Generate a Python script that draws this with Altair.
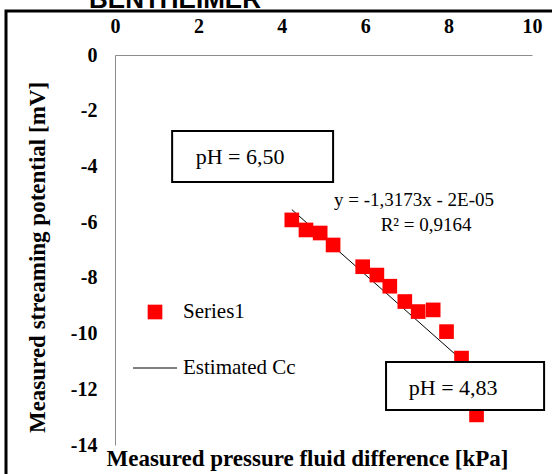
import altair as alt
import pandas as pd

# Measured data (Series1)
pressure = [4.24, 4.58, 4.92, 5.23, 5.94, 6.28, 6.59, 6.95, 7.27, 7.63, 7.95, 8.31, 8.67]
potential = [-5.92, -6.28, -6.39, -6.82, -7.60, -7.90, -8.30, -8.85, -9.21, -9.15, -9.93, -10.88, -12.92]

# Estimated Cc line endpoints
est_x = [4.24, 8.67]
est_y = [-5.55, -11.42]

# Axis ticks
x_ticks = [0, 2, 4, 6, 8, 10]
y_ticks = [0, -2, -4, -6, -8, -10, -12, -14]

# Annotation boxes (pH labels)
box_text = ["pH = 6,50", "pH = 4,83"]
box_x1 = [1.37, 6.50]
box_x2 = [5.23, 10.29]
box_y1 = [-2.73, -11.02]
box_y2 = [-4.56, -12.74]
box_tx = [3.0, 8.11]
box_ty = [-3.66, -11.95]

# Trendline equation texts
eq_text = ["y = -1,3173x - 2E-05", "R\u00b2 = 0,9164"]
eq_x = [7.17, 7.46]
eq_y = [-5.20, -6.10]

SERIF = "Liberation Serif"

pts = pd.DataFrame({"x": pressure, "y": potential})
est = pd.DataFrame({"x": est_x, "y": est_y})
boxes = pd.DataFrame({"t": box_text, "x1": box_x1, "x2": box_x2, "y1": box_y1,
                      "y2": box_y2, "tx": box_tx, "ty": box_ty})
eqs = pd.DataFrame({"t": eq_text, "x": eq_x, "y": eq_y})
one = pd.DataFrame({"a": [0]})

xscale = alt.Scale(domain=[0, 10], nice=False)
yscale = alt.Scale(domain=[-14, 0], nice=False)

xaxis = alt.Axis(orient="top", values=x_ticks, grid=False, ticks=False, tickSize=0,
                 domainColor="#8c8c8c", labelFont=SERIF, labelFontWeight="bold",
                 labelFontSize=20, labelColor="black", labelPadding=19, labelFlush=False,
                 labelExpr="toString(datum.value)",
                 title="Measured pressure fluid difference [kPa]", titleFont=SERIF,
                 titleFontWeight="bold", titleFontSize=23, titleColor="black",
                 titleX=192, titleY=403, titleAlign="center", titleBaseline="middle",
                 titleAngle=0)
yaxis = alt.Axis(orient="left", values=y_ticks, grid=False, ticks=False, tickSize=0,
                 domainColor="#8c8c8c", labelFont=SERIF, labelFontWeight="bold",
                 labelFontSize=20, labelColor="black", labelPadding=18, labelFlush=False,
                 labelExpr="toString(datum.value)",
                 title="Measured streaming potential [mV]", titleFont=SERIF,
                 titleFontWeight="bold", titleFontSize=23, titleColor="black",
                 titleX=-78, titleY=202, titleAngle=-90, titleAlign="center",
                 titleBaseline="middle")

frame = alt.Chart(one).mark_rect(filled=False, stroke="black", strokeWidth=3).encode(
    x=alt.value(-109), x2=alt.value(700), y=alt.value(-44), y2=alt.value(700))

points = alt.Chart(pts).mark_square(size=215, color="#ff0000", opacity=1).encode(
    x=alt.X("x:Q", scale=xscale, axis=xaxis),
    y=alt.Y("y:Q", scale=yscale, axis=yaxis))

line = alt.Chart(est).mark_line(color="black", strokeWidth=1).encode(
    x=alt.X("x:Q", scale=xscale), y=alt.Y("y:Q", scale=yscale))

eq = alt.Chart(eqs).mark_text(font=SERIF, fontSize=19, color="black", align="center",
                              baseline="middle").encode(
    x=alt.X("x:Q", scale=xscale), y=alt.Y("y:Q", scale=yscale), text="t:N")

rects = alt.Chart(boxes).mark_rect(fill="white", stroke="black", strokeWidth=2).encode(
    x=alt.X("x1:Q", scale=xscale), x2="x2:Q",
    y=alt.Y("y1:Q", scale=yscale), y2="y2:Q")

rect_text = alt.Chart(boxes).mark_text(font=SERIF, fontSize=22, color="black",
                                       align="center", baseline="middle").encode(
    x=alt.X("tx:Q", scale=xscale), y=alt.Y("ty:Q", scale=yscale), text="t:N")

leg_sq = alt.Chart(one).mark_square(size=215, color="#ff0000", opacity=1).encode(
    x=alt.value(40), y=alt.value(257))
leg_ln = alt.Chart(one).mark_rule(color="black", strokeWidth=1).encode(
    x=alt.value(18), x2=alt.value(62), y=alt.value(313))
leg_t1 = alt.Chart(one).mark_text(text="Series1", font=SERIF, fontSize=21, color="black",
                                  align="left", baseline="middle").encode(
    x=alt.value(68), y=alt.value(257))
leg_t2 = alt.Chart(one).mark_text(text="Estimated Cc", font=SERIF, fontSize=21,
                                  color="black", align="left", baseline="middle").encode(
    x=alt.value(68), y=alt.value(313))

title = alt.Chart(one).mark_text(text="BENTHEIMER", font="Liberation Sans", fontSize=26,
                                 fontWeight="bold", color="black", align="center",
                                 baseline="alphabetic").encode(
    x=alt.value(60), y=alt.value(-47))

chart = alt.layer(frame, line, points, eq, rects, rect_text,
                  leg_sq, leg_ln, leg_t1, leg_t2, title).properties(
    width=417, height=390,
    autosize=alt.AutoSizeParams(type="none"),
    padding={"left": 115, "top": 55, "right": 20, "bottom": 29},
    background="white",
).configure_view(stroke=None)

chart.save("out.html", embed_options={"renderer": "svg", "actions": False})
